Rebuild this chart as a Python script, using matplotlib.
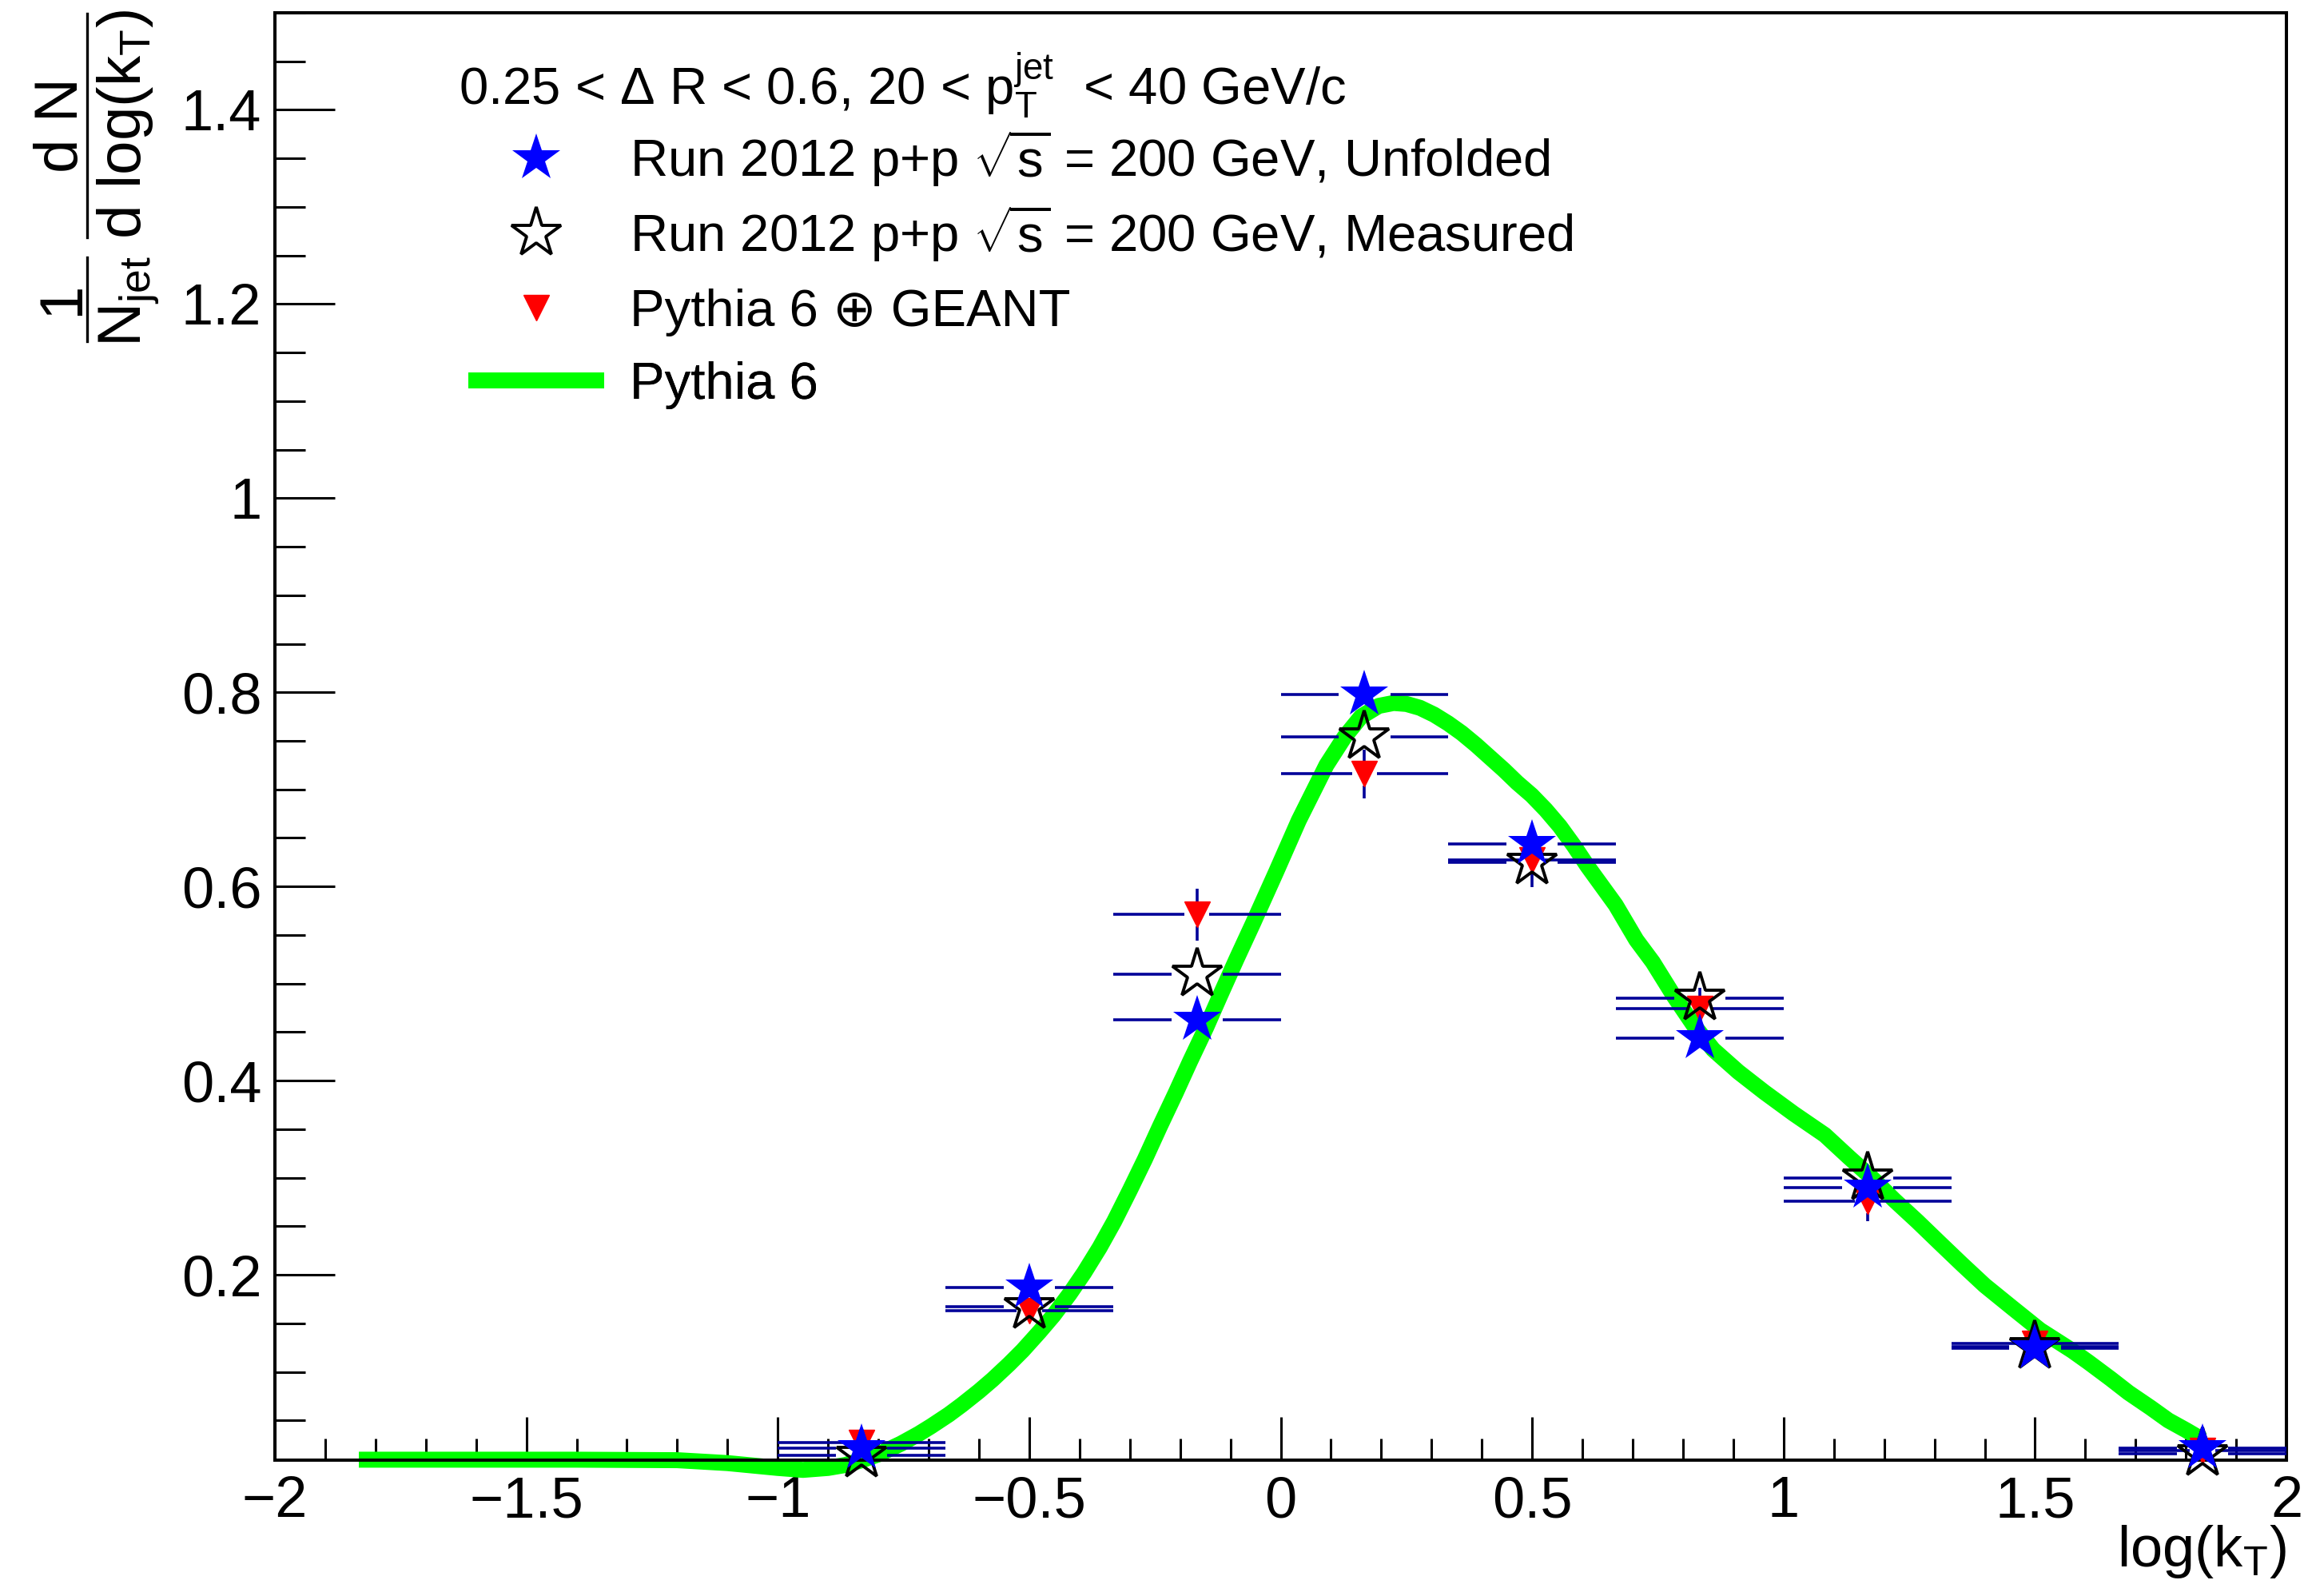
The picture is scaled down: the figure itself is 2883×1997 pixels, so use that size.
import numpy as np
import matplotlib.pyplot as plt
from matplotlib.lines import Line2D
from matplotlib.ticker import MultipleLocator, FuncFormatter

plt.rcParams['font.family'] = ['Liberation Sans', 'DejaVu Sans']
plt.rcParams['mathtext.fontset'] = 'custom'
plt.rcParams['mathtext.rm'] = 'Liberation Sans'
plt.rcParams['mathtext.it'] = 'Liberation Sans'
plt.rcParams['mathtext.bf'] = 'Liberation Sans:bold'
plt.rcParams['mathtext.sf'] = 'Liberation Sans'
plt.rcParams['mathtext.default'] = 'rm'

# log(kT) bins, 1/3 wide
bin_centers = [-0.8333, -0.5, -0.1667, 0.1667, 0.5, 0.8333, 1.1667, 1.5, 1.8333]
bin_half_widths = [0.1667, 0.1667, 0.1667, 0.1667, 0.1667, 0.1667, 0.1667, 0.1667, 0.1667]

# Run 2012 p+p, unfolded
unfolded = [0.021, 0.187, 0.463, 0.798, 0.644, 0.444, 0.290, 0.124, 0.021]
unfolded_err = [0.003, 0.006, 0.010, 0.012, 0.010, 0.008, 0.006, 0.004, 0.002]

# Run 2012 p+p, measured (detector level)
measured = [0.014, 0.167, 0.510, 0.754, 0.625, 0.485, 0.300, 0.126, 0.0155]
measured_err = [0.003, 0.006, 0.010, 0.012, 0.010, 0.008, 0.006, 0.004, 0.002]

# Pythia 6 + GEANT
geant = [0.027, 0.163, 0.571, 0.716, 0.627, 0.474, 0.276, 0.129, 0.019]
geant_err = [0.004, 0.009, 0.027, 0.025, 0.028, 0.022, 0.021, 0.008, 0.003]

# Pythia 6 particle level (smooth curve)
pythia_x = [-1.833, -1.6, -1.4, -1.2, -1.1, -1.0, -0.95, -0.9, -0.866, -0.833,
            -0.8, -0.755, -0.72, -0.695, -0.66, -0.634, -0.6, -0.573, -0.54, -0.513,
            -0.48, -0.452, -0.42, -0.391, -0.36, -0.331, -0.3, -0.27, -0.24, -0.209,
            -0.18, -0.148, -0.12, -0.088, -0.055, -0.009, 0.036, 0.091, 0.127, 0.160,
            0.195, 0.2245, 0.25, 0.277, 0.305, 0.333, 0.36, 0.388, 0.416, 0.444,
            0.47, 0.499, 0.527, 0.555, 0.583, 0.610, 0.638, 0.666, 0.707, 0.740,
            0.782, 0.82, 0.860, 0.91, 0.962, 1.02, 1.082, 1.13, 1.176, 1.22,
            1.266, 1.31, 1.355, 1.40, 1.454, 1.51, 1.574, 1.606, 1.65, 1.686,
            1.73, 1.765, 1.80, 1.833]
pythia_y = [0.0095, 0.0095, 0.0095, 0.009, 0.006, 0.001, -0.001, 0.001, 0.004, 0.009,
            0.015, 0.026, 0.036, 0.044, 0.056, 0.066, 0.080, 0.092, 0.108, 0.122,
            0.141, 0.158, 0.180, 0.202, 0.228, 0.255, 0.287, 0.319, 0.353, 0.387,
            0.420, 0.455, 0.488, 0.525, 0.562, 0.615, 0.668, 0.725, 0.754, 0.775,
            0.786, 0.789, 0.788, 0.784, 0.777, 0.768, 0.758, 0.746, 0.733, 0.720,
            0.707, 0.694, 0.679, 0.662, 0.642, 0.621, 0.601, 0.581, 0.545, 0.522,
            0.487, 0.458, 0.432, 0.409, 0.388, 0.366, 0.344, 0.321, 0.2996, 0.277,
            0.255, 0.233, 0.2107, 0.189, 0.1663, 0.143, 0.1218, 0.110, 0.093, 0.0785,
            0.063, 0.050, 0.040, 0.030]

err_color = '#000099'
fig_w, fig_h = 2883, 1997


def gapped_errors(ax, x, y, xerr, yerr, gap_x, gap_y):
    # error bars that stop at the marker edge
    x = np.asarray(x, dtype=float)
    y = np.asarray(y, dtype=float)
    xerr = np.asarray(xerr, dtype=float)
    yerr = np.asarray(yerr, dtype=float)
    kw = dict(colors=err_color, linewidth=2.6, zorder=3, capstyle='butt')
    ax.hlines(y, x - xerr, x - gap_x, **kw)
    ax.hlines(y, x + gap_x, x + xerr, **kw)
    show = yerr > gap_y
    ax.vlines(x[show], (y + gap_y)[show], (y + yerr)[show], **kw)
    ax.vlines(x[show], (y - yerr)[show], (y - gap_y)[show], **kw)


def fpos(px, py):
    # pixel position (from top-left) to figure fraction
    return px / fig_w, 1 - py / fig_h


fig = plt.figure(figsize=(fig_w / 100, fig_h / 100), dpi=100)
ax = fig.add_axes([0.1193, 0.0851, 0.8731, 0.9069])

ax.plot(pythia_x, pythia_y, color='#00ff00', lw=14.4, solid_capstyle='butt',
        solid_joinstyle='round', clip_on=False, zorder=2)

gapped_errors(ax, bin_centers, unfolded, bin_half_widths, unfolded_err, 0.051, 0.026)
gapped_errors(ax, bin_centers, measured, bin_half_widths, measured_err, 0.051, 0.026)
gapped_errors(ax, bin_centers, geant, bin_half_widths, geant_err, 0.025, 0.0124)

ax.plot(bin_centers, geant, ls='none', marker='v', ms=23, color='#ff0000',
        mec='#ff0000', zorder=4, clip_on=False)
ax.plot(bin_centers, measured, ls='none', marker='*', ms=47, mfc='none',
        mec='black', mew=2.8, zorder=5, clip_on=False)
ax.plot(bin_centers, unfolded, ls='none', marker='*', ms=45, color='#0000ff',
        mec='#0000ff', mew=0, zorder=6, clip_on=False)

ax.set_xlim(-2, 2)
ax.set_ylim(0.009, 1.5)

fmt = FuncFormatter(lambda v, p: ('%g' % v).replace('-', '\u2212'))
ax.xaxis.set_major_locator(MultipleLocator(0.5))
ax.xaxis.set_minor_locator(MultipleLocator(0.1))
ax.yaxis.set_major_locator(MultipleLocator(0.2))
ax.yaxis.set_minor_locator(MultipleLocator(0.05))
ax.xaxis.set_major_formatter(fmt)
ax.yaxis.set_major_formatter(fmt)

ax.tick_params(axis='x', which='major', direction='in', length=39, width=2.2,
               labelsize=52, pad=14, top=False)
ax.tick_params(axis='x', which='minor', direction='in', length=19.5, width=2.2, top=False)
ax.tick_params(axis='y', which='major', direction='in', length=54, width=2.2,
               labelsize=52, pad=12, right=False)
ax.tick_params(axis='y', which='minor', direction='in', length=27, width=2.2, right=False)
for sp in ax.spines.values():
    sp.set_linewidth(2.9)

ax.set_xlabel(r'log(k$_{T}$)', fontsize=52, loc='right')
ax.xaxis.set_label_coords(1.0, -0.0436)

# y title: 1/N_jet dN/dlog(kT), built as two stacked fractions
ytl = dict(rotation=90, rotation_mode='anchor', ha='center', va='baseline', fontsize=55)
fig.text(*fpos(98, 374), '1', **ytl)
fig.text(*fpos(176, 377), r'N$_{jet}$', **ytl)
fig.text(*fpos(97, 157), 'd N', **ytl)
fig.text(*fpos(176, 155), r'd log(k$_{T}$)', **ytl)
for top, bottom in [(322, 427), (17, 297)]:
    x0, y0 = fpos(109, top)
    _, y1 = fpos(109, bottom)
    fig.add_artist(Line2D([x0, x0], [y0, y1], transform=fig.transFigure,
                          color='black', lw=2.4))

ax.text(0.0914, 0.9367, r'0.25 < Δ R < 0.6, 20 < $p_{T}^{jet}$  < 40 GeV/c',
        transform=ax.transAxes, fontsize=47, va='baseline')

entries = [
    (Line2D([], [], ls='none', marker='*', ms=45, color='#0000ff', mew=0),
     r'Run 2012 p+p $\sqrt{s}$ = 200 GeV, Unfolded', 222),
    (Line2D([], [], ls='none', marker='*', ms=47, mfc='none', mec='black', mew=2.8),
     r'Run 2012 p+p $\sqrt{s}$ = 200 GeV, Measured', 316),
    (Line2D([], [], ls='none', marker='v', ms=23, color='#ff0000'),
     'Pythia 6 \u2295 GEANT', 407),
    (Line2D([], [], color='#00ff00', lw=14.4, solid_capstyle='butt'),
     'Pythia 6', 498),
]
ax_top_px, ax_h_px = 16, 1811
for handle, label, baseline in entries:
    y_anchor = 1 - (baseline + 14 - ax_top_px) / ax_h_px
    leg = ax.legend([handle], [label], loc='lower left', bbox_to_anchor=(0.0961, y_anchor),
                    frameon=False, fontsize=47, borderpad=0, borderaxespad=0,
                    handlelength=2.6, handletextpad=0.5, numpoints=1)
    ax.add_artist(leg)

fig.savefig('out.png', dpi=100)
